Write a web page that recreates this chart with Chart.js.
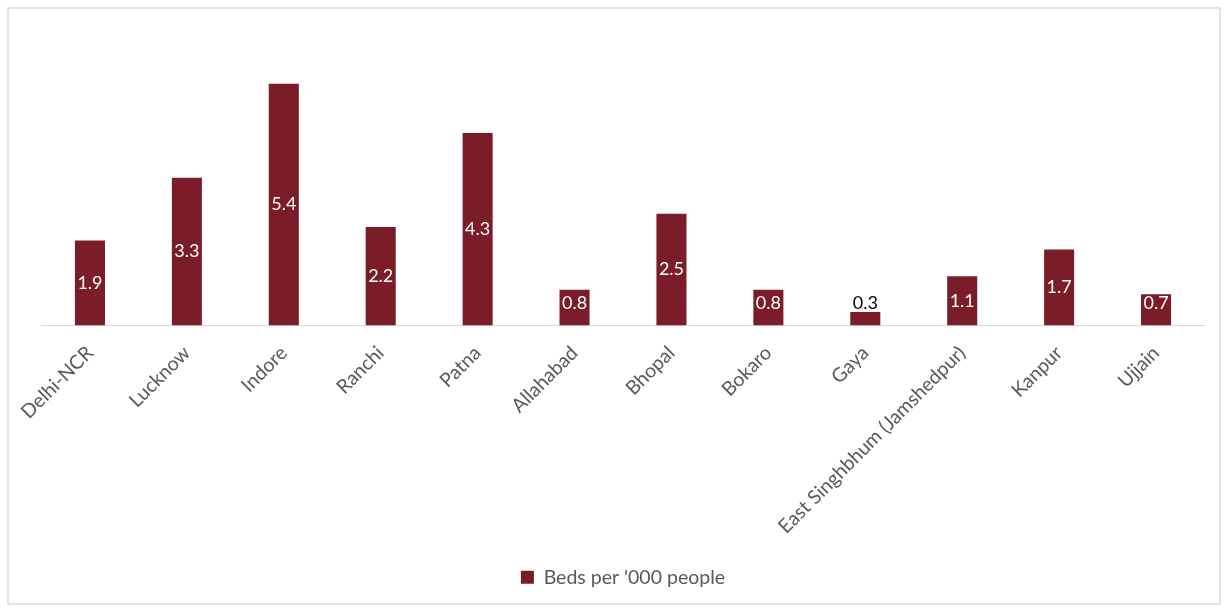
<!DOCTYPE html>
<html>
<head>
<meta charset="utf-8">
<script src="https://cdn.jsdelivr.net/npm/chart.js@4/dist/chart.umd.min.js"></script>
<style>
  body { margin: 0; background: #fff; }
  #box { position: absolute; left: 7px; top: 7px; width: 1210px; height: 594px; border: 2px solid #e2e2e2; }
</style>
</head>
<body>
<div id="box"><canvas id="myChart" width="1210" height="594"></canvas></div>
<script>
// chart data
const cities = ['Delhi-NCR', 'Lucknow', 'Indore', 'Ranchi', 'Patna', 'Allahabad', 'Bhopal',
    'Bokaro', 'Gaya', 'East Singhbhum (Jamshedpur)', 'Kanpur', 'Ujjain'];
const beds = [1.9, 3.3, 5.4, 2.2, 4.3, 0.8, 2.5, 0.8, 0.3, 1.1, 1.7, 0.7];
const seriesName = "Beds per '000 people";

// value labels inside the bars
const barLabels = {
    id: 'barLabels',
    afterDatasetsDraw(chart) {
        const ctx = chart.ctx;
        const meta = chart.getDatasetMeta(0);
        ctx.save();
        ctx.font = '18px Lato';
        ctx.textAlign = 'center';
        ctx.textBaseline = 'middle';
        meta.data.forEach((bar, i) => {
            const h = bar.base - bar.y;
            const y = Math.min((bar.y + bar.base) / 2, bar.base - 22);
            ctx.fillStyle = h < 20 ? '#000' : '#fff';
            ctx.fillText(beds[i].toFixed(1), bar.x, y);
        });
        ctx.restore();
    }
};

new Chart(document.getElementById('myChart'), {
    type: 'bar',
    data: {
        labels: cities,
        datasets: [{
            label: seriesName,
            data: beds,
            backgroundColor: '#7b1c29',
            barPercentage: 0.31,
            categoryPercentage: 1
        }]
    },
    options: {
        responsive: false,
        animation: false,
        layout: { padding: { top: 48, left: 32.5, right: 14.5, bottom: 6 } },
        plugins: {
            legend: {
                position: 'bottom',
                labels: { boxWidth: 13, boxHeight: 13, padding: 10, color: '#595959', font: { family: 'Lato', size: 19.5 } }
            },
            tooltip: { enabled: false }
        },
        scales: {
            x: {
                grid: { display: false },
                border: { color: '#d9d9d9', width: 1 },
                ticks: {
                    autoSkip: false, minRotation: 45, maxRotation: 45, padding: 8,
                    color: '#595959', font: { family: 'Lato', size: 19.5 }
                },
                afterFit: s => { s.height = 232; s.paddingLeft = 0; s.paddingRight = 0; }
            },
            y: { display: false, min: 0, max: 6 }
        }
    },
    plugins: [barLabels]
});
</script>
</body>
</html>
